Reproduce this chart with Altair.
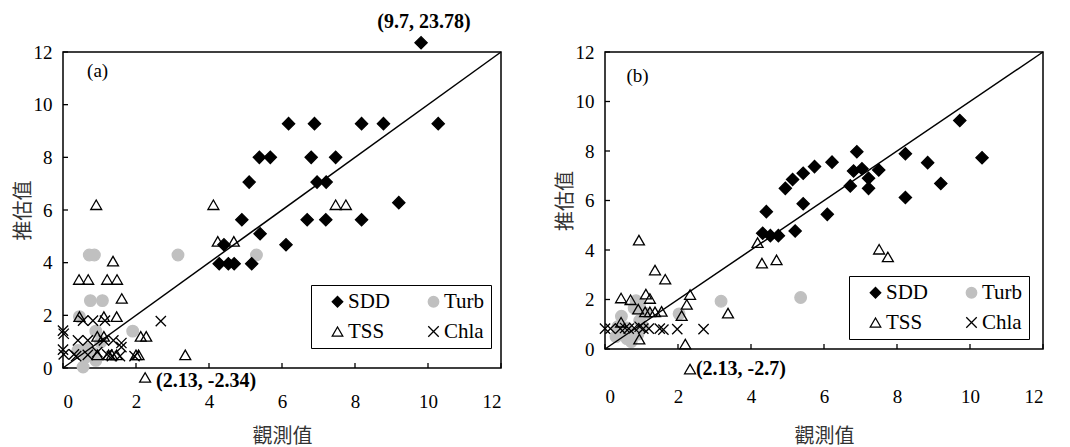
import altair as alt
import pandas as pd

SERIES = ["SDD", "Turb", "TSS", "Chla"]
TICKS = [0, 2, 4, 6, 8, 10, 12]
DIAG_X = [0, 12]
DIAG_Y = [0, 12]

# ---------------- Panel (a) ----------------
a_sdd_x = [9.81, 6.18, 6.89, 8.18, 8.78, 10.28, 5.38, 5.68, 6.80, 7.47, 5.10, 6.96, 7.21,
           4.90, 6.69, 7.20, 8.18, 9.20, 5.40, 6.11, 4.41, 4.28, 4.53, 4.69, 5.17]
a_sdd_y = [12.35, 9.28, 9.28, 9.28, 9.28, 9.28, 8.00, 8.00, 8.00, 8.00, 7.06, 7.06, 7.06,
           5.63, 5.63, 5.63, 5.63, 6.28, 5.10, 4.68, 4.68, 3.96, 3.96, 3.96, 3.96]
a_turb_x = [0.72, 0.86, 3.15, 5.30, 0.75, 1.08, 0.45, 1.91, 0.90, 0.41, 0.68, 0.90, 0.63, 1.03, 0.55, 0.85]
a_turb_y = [4.29, 4.29, 4.29, 4.29, 2.56, 2.56, 1.95, 1.40, 1.40, 0.67, 0.73, 0.29, 0.42, 0.98, 0.04, 0.55]
a_tss_x = [0.91, 4.12, 7.47, 7.75, 4.24, 4.68, 1.37, 0.44, 0.69, 1.21, 1.48, 1.61, 0.45, 1.12, 1.47,
           0.94, 1.12, 2.13, 2.28, 0.94, 1.25, 1.34, 1.47, 2.00, 2.07, 3.35, 2.25]
a_tss_y = [6.20, 6.20, 6.20, 6.20, 4.81, 4.81, 4.06, 3.36, 3.36, 3.36, 3.36, 2.64, 1.95, 1.95, 1.95,
           1.20, 1.20, 1.20, 1.20, 0.50, 0.50, 0.50, 0.50, 0.50, 0.50, 0.50, -0.36]
a_chla_x = [0.00, 0.02, 0.00, 0.02, 0.30, 0.36, 0.41, 0.68, 1.12, 1.38, 1.60, 0.55, 0.82, 1.15,
            0.68, 0.94, 1.21, 1.34, 1.56, 1.96, 1.60, 2.68]
a_chla_y = [1.42, 1.30, 0.70, 0.52, 0.52, 0.45, 1.05, 1.05, 1.05, 1.05, 0.95, 1.80, 1.80, 1.80,
            0.50, 0.60, 0.52, 0.45, 0.45, 0.45, 0.79, 1.78]
a_lab_text = ["(a)", "(9.7, 23.78)", "(2.13, -2.34)"]
a_lab_x = [0.66, 9.89, 2.55]
a_lab_y = [11.27, 13.14, -0.51]
a_lab_bold = ["normal", "bold", "bold"]
a_lab_align = ["left", "center", "left"]

# ---------------- Panel (b) ----------------
b_sdd_x = [9.72, 10.33, 6.90, 8.23, 8.84, 6.22, 5.74, 5.43, 5.14, 4.94, 6.81, 7.04, 7.50,
           7.22, 7.22, 6.72, 9.20, 8.23, 5.43, 6.09, 4.42, 5.21, 4.32, 4.53, 4.75]
b_sdd_y = [9.23, 7.73, 7.97, 7.89, 7.53, 7.55, 7.37, 7.10, 6.85, 6.49, 7.19, 7.28, 7.23,
           6.90, 6.49, 6.59, 6.69, 6.12, 5.87, 5.44, 5.55, 4.77, 4.68, 4.58, 4.58]
b_turb_x = [3.18, 5.36, 0.45, 0.60, 0.42, 0.75, 0.90, 0.95, 1.10, 0.80, 0.95, 2.03, 0.60, 1.05,
            0.35, 0.30, 0.72, 0.85]
b_turb_y = [1.93, 2.08, 1.32, 0.85, 0.60, 0.52, 0.60, 1.85, 1.45, 1.65, 1.15, 1.42, 0.42, 0.90,
            0.90, 0.50, 0.30, 1.95]
b_tss_x = [0.93, 1.37, 1.65, 0.44, 0.70, 1.12, 1.23, 2.33, 2.24, 2.10, 3.37, 0.91, 1.10, 1.23,
           1.37, 1.55, 0.44, 0.94, 2.20, 4.18, 4.30, 4.70, 7.51, 7.75, 2.33]
b_tss_y = [4.40, 3.19, 2.82, 2.06, 1.99, 2.22, 2.04, 2.20, 1.80, 1.35, 1.45, 1.61, 1.50, 1.50,
           1.50, 1.52, 1.08, 0.40, 0.20, 4.30, 3.47, 3.60, 4.03, 3.72, -0.81]
b_chla_x = [0.00, 0.15, 0.42, 0.55, 0.65, 0.80, 0.95, 1.05, 1.20, 1.50, 1.60, 1.98, 2.70]
b_chla_y = [0.82, 0.82, 0.82, 0.85, 0.82, 0.85, 0.90, 0.82, 0.82, 0.82, 0.78, 0.80, 0.80]
b_lab_text = ["(b)", "(2.13, -2.7)"]
b_lab_x = [0.59, 2.49]
b_lab_y = [11.02, -0.81]
b_lab_bold = ["normal", "bold"]
b_lab_align = ["left", "left"]

X_PATH = "M-1,-1L1,1M-1,1L1,-1"
SERIF = "Liberation Serif"
CJK = "Noto Sans CJK TC"


def points_frame(groups):
    rows = []
    for s, xs, ys in groups:
        rows += [{"s": s, "x": x, "y": y} for x, y in zip(xs, ys)]
    return pd.DataFrame(rows)


def panel(groups, labels, W, H, lpad_x, tpad_x, leg_x, leg_y):
    df = points_frame(groups)
    xscale = alt.Scale(domain=[0, 12], nice=False, zero=False)
    yscale = alt.Scale(domain=[0, 12], nice=False, zero=False)
    xaxis = alt.Axis(values=TICKS, title="觀測值", labelPadding=lpad_x, titlePadding=tpad_x)
    yaxis = alt.Axis(values=TICKS, title="推估值", labelPadding=11, titlePadding=0)
    leg = alt.Legend(title=None, orient="none", legendX=leg_x, legendY=leg_y, columns=2,
                     direction="horizontal",
                     labelFont=SERIF, labelFontSize=21, labelColor="black", labelOffset=0,
                     symbolSize=110, symbolStrokeWidth=1.3, rowPadding=8, columnPadding=22,
                     padding=6, symbolOffset=10, strokeColor="black", fillColor="white")
    pts = alt.Chart(df).mark_point(opacity=1, strokeWidth=1.3).encode(
        x=alt.X("x:Q", scale=xscale, axis=xaxis),
        y=alt.Y("y:Q", scale=yscale, axis=yaxis),
        shape=alt.Shape("s:N", scale=alt.Scale(domain=SERIES, range=["diamond", "circle", "triangle-up", X_PATH]), legend=leg),
        fill=alt.Fill("s:N", scale=alt.Scale(domain=SERIES, range=["#000000", "#c0c0c0", "transparent", "transparent"]), legend=leg),
        stroke=alt.Stroke("s:N", scale=alt.Scale(domain=SERIES, range=["#000000", "#c0c0c0", "#000000", "#000000"]), legend=leg),
        size=alt.Size("s:N", scale=alt.Scale(domain=SERIES, range=[150, 105, 165, 135]), legend=None),
    )
    diag = alt.Chart(pd.DataFrame({"x": DIAG_X, "y": DIAG_Y})).mark_line(color="black", strokeWidth=1.5).encode(
        x=alt.X("x:Q", scale=xscale, axis=xaxis), y=alt.Y("y:Q", scale=yscale, axis=yaxis))
    tdf = pd.DataFrame({"t": TICKS})
    xt = alt.Chart(tdf).mark_rule(color="black", strokeWidth=1.3).encode(
        x=alt.X("t:Q", scale=xscale, axis=xaxis), y=alt.value(H), y2=alt.value(H - 5))
    yt = alt.Chart(tdf).mark_rule(color="black", strokeWidth=1.3).encode(
        y=alt.Y("t:Q", scale=yscale, axis=yaxis), x=alt.value(0), x2=alt.value(5))
    text, lx, ly, bold, align = labels
    ldf = pd.DataFrame({"text": text, "x": lx, "y": ly, "w": bold, "a": align})
    layers = [pts, diag, xt, yt]
    for w in ["normal", "bold"]:
        for a in ["left", "center"]:
            sub = ldf[(ldf.w == w) & (ldf.a == a)]
            if len(sub) == 0:
                continue
            layers.append(alt.Chart(sub).mark_text(font=SERIF, fontSize=20 if w == "bold" else 19,
                                                   fontWeight=w, align=a,
                                                   baseline="middle", color="black").encode(
                x=alt.X("x:Q", scale=xscale, axis=xaxis), y=alt.Y("y:Q", scale=yscale, axis=yaxis),
                text="text:N"))
    return alt.layer(*layers).properties(width=W, height=H)


pa = panel([("Turb", a_turb_x, a_turb_y), ("SDD", a_sdd_x, a_sdd_y), ("TSS", a_tss_x, a_tss_y),
            ("Chla", a_chla_x, a_chla_y)],
           (a_lab_text, a_lab_x, a_lab_y, a_lab_bold, a_lab_align), 438, 316, 24, 15, 248, 233)
pb = panel([("Turb", b_turb_x, b_turb_y), ("SDD", b_sdd_x, b_sdd_y), ("TSS", b_tss_x, b_tss_y),
            ("Chla", b_chla_x, b_chla_y)],
           (b_lab_text, b_lab_x, b_lab_y, b_lab_bold, b_lab_align), 438, 297, 38, 20, 244, 224)

chart = alt.hconcat(pa, pb, spacing=104).properties(
    bounds="flush", padding={"left": 4, "top": 3, "right": 5, "bottom": 0}
).resolve_legend(shape="independent", fill="independent", stroke="independent").configure_view(
    stroke="black", strokeWidth=1.5
).configure_axis(
    domain=False, ticks=False, grid=False, labelFont=SERIF, labelFontSize=19, labelColor="black",
    titleFont=CJK, titleFontSize=20, titleFontWeight="normal", titleColor="#333"
)

chart.save("out.html", embed_options={"renderer": "svg", "actions": False})
